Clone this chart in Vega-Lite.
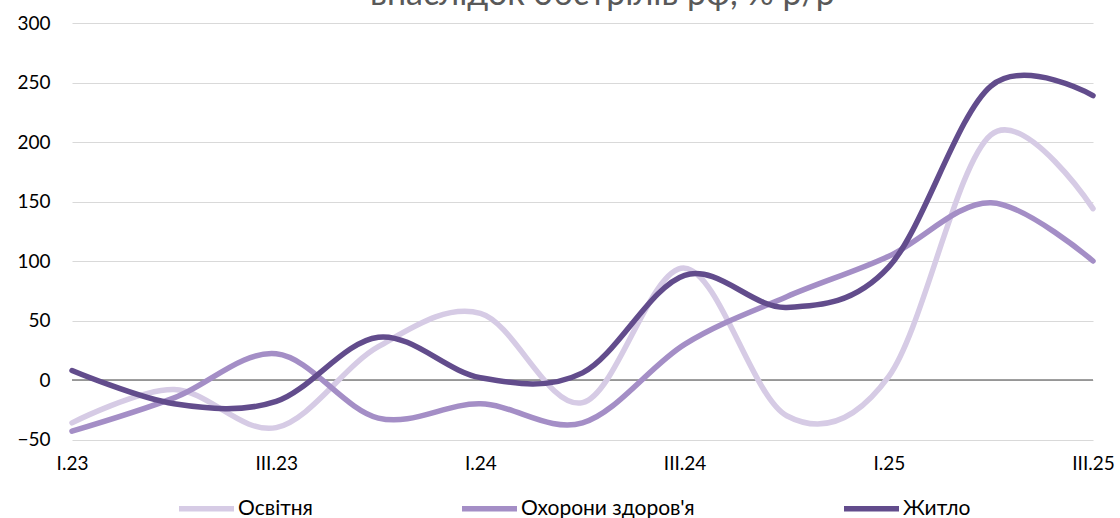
{
  "$schema": "https://vega.github.io/schema/vega-lite/v6.json",
  "width": 1021,
  "height": 416.5,
  "autosize": {"type": "none"},
  "padding": {"left": 72, "top": 23, "right": 27, "bottom": 78.5},
  "background": "white",
  "config": {"view": {"stroke": null}, "font": "Lato"},
  "title": {
    "text": "внаслідок обстрілів рф, % р/р",
    "font": "Lato",
    "fontSize": 34,
    "fontWeight": "normal",
    "color": "#595959",
    "anchor": "middle",
    "baseline": "alphabetic",
    "offset": 0,
    "dx": 20,
    "dy": 25
  },
  "data": {
    "values": [
      {"q": "I.23", "s": "Освітня", "v": -36},
      {"q": "II.23", "s": "Освітня", "v": -8},
      {"q": "III.23", "s": "Освітня", "v": -40},
      {"q": "IV.23", "s": "Освітня", "v": 28},
      {"q": "I.24", "s": "Освітня", "v": 56},
      {"q": "II.24", "s": "Освітня", "v": -19},
      {"q": "III.24", "s": "Освітня", "v": 94},
      {"q": "IV.24", "s": "Освітня", "v": -30},
      {"q": "I.25", "s": "Освітня", "v": 3},
      {"q": "II.25", "s": "Освітня", "v": 206},
      {"q": "III.25", "s": "Освітня", "v": 144},
      {"q": "I.23", "s": "Охорони здоров'я", "v": -43},
      {"q": "II.23", "s": "Охорони здоров'я", "v": -15},
      {"q": "III.23", "s": "Охорони здоров'я", "v": 22},
      {"q": "IV.23", "s": "Охорони здоров'я", "v": -32},
      {"q": "I.24", "s": "Охорони здоров'я", "v": -20},
      {"q": "II.24", "s": "Охорони здоров'я", "v": -36},
      {"q": "III.24", "s": "Охорони здоров'я", "v": 30},
      {"q": "IV.24", "s": "Охорони здоров'я", "v": 70},
      {"q": "I.25", "s": "Охорони здоров'я", "v": 104},
      {"q": "II.25", "s": "Охорони здоров'я", "v": 149},
      {"q": "III.25", "s": "Охорони здоров'я", "v": 100},
      {"q": "I.23", "s": "Житло", "v": 8},
      {"q": "II.23", "s": "Житло", "v": -20},
      {"q": "III.23", "s": "Житло", "v": -18},
      {"q": "IV.23", "s": "Житло", "v": 36},
      {"q": "I.24", "s": "Житло", "v": 2},
      {"q": "II.24", "s": "Житло", "v": 6},
      {"q": "III.24", "s": "Житло", "v": 88},
      {"q": "IV.24", "s": "Житло", "v": 61},
      {"q": "I.25", "s": "Житло", "v": 95},
      {"q": "II.25", "s": "Житло", "v": 247},
      {"q": "III.25", "s": "Житло", "v": 239}
    ]
  },
  "layer": [
    {
      "data": {"values": [{"z": 0}]},
      "mark": {"type": "rule", "color": "#7f7f7f", "strokeWidth": 1.5},
      "encoding": {
        "y": {"field": "z", "type": "quantitative"}
      }
    },
    {
      "mark": {"type": "line", "interpolate": "cardinal", "tension": 0, "strokeWidth": 5.5, "strokeCap": "round"},
      "encoding": {
        "x": {
          "field": "q",
          "type": "ordinal",
          "sort": ["I.23", "II.23", "III.23", "IV.23", "I.24", "II.24", "III.24", "IV.24", "I.25", "II.25", "III.25"],
          "scale": {"type": "point", "padding": 0},
          "axis": {
            "title": null,
            "values": ["I.23", "III.23", "I.24", "III.24", "I.25", "III.25"],
            "labelAngle": 0,
            "ticks": false,
            "domain": false,
            "grid": false,
            "labelFont": "Lato",
            "labelFontSize": 19,
            "labelColor": "#000000",
            "labelPadding": 15
          }
        },
        "y": {
          "field": "v",
          "type": "quantitative",
          "scale": {"domain": [-50, 300], "nice": false, "zero": false},
          "axis": {
            "title": null,
            "values": [-50, 0, 50, 100, 150, 200, 250, 300],
            "ticks": false,
            "domain": false,
            "grid": true,
            "gridColor": "#d9d9d9",
            "gridWidth": 1.2,
            "labelFont": "Lato",
            "labelFontSize": 19,
            "labelColor": "#000000",
            "labelPadding": 22
          }
        },
        "color": {
          "field": "s",
          "type": "nominal",
          "sort": ["Освітня", "Охорони здоров'я", "Житло"],
          "scale": {
            "domain": ["Освітня", "Охорони здоров'я", "Житло"],
            "range": ["#d6cbe5", "#a48ec6", "#624c8c"]
          },
          "legend": {
            "title": null,
            "orient": "none",
            "direction": "horizontal",
            "columns": 3,
            "legendX": 104,
            "legendY": 455,
            "symbolType": "stroke",
            "symbolSize": 3025,
            "symbolStrokeWidth": 5.5,
            "labelFont": "Lato",
            "labelFontSize": 21,
            "labelLimit": 0,
            "labelColor": "#000000",
            "labelOffset": 1,
            "columnPadding": 138
          }
        }
      }
    }
  ]
}
